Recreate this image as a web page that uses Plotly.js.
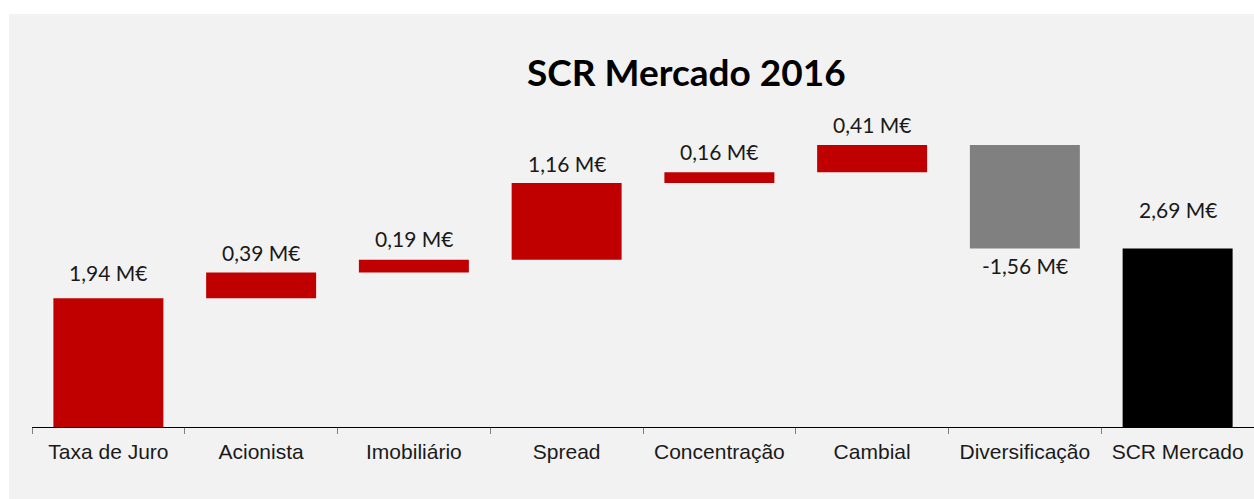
<!DOCTYPE html>
<html>
<head>
<meta charset="utf-8">
<script src="https://cdn.plot.ly/plotly-3.0.1.min.js"></script>
<style>
  html, body { margin: 0; padding: 0; background: #ffffff; width: 1254px; height: 499px; overflow: hidden; }
  #chart { position: absolute; left: 9px; top: 14px; width: 1245px; height: 485px; }
</style>
</head>
<body>
<div id="chart"></div>
<script>
const categories = ["Taxa de Juro", "Acionista", "Imobiliário", "Spread", "Concentração", "Cambial", "Diversificação", "SCR Mercado"];
const values = [1.94, 0.39, 0.19, 1.16, 0.16, 0.41, -1.56, 2.69];
const measures = ["relative", "relative", "relative", "relative", "relative", "relative", "relative", "total"];
const labels = values.map(v => v.toFixed(2).replace('.', ',') + ' M€');

// label offsets (pixels) from the bar end — styling only
const labelShift = [26, 20, 21, 19, 21, 21, -17, 39];

// cumulative positions of bar ends derived from the data
let run = 0;
const barEnds = values.map((v, i) => {
  if (measures[i] === 'total') { return run; }
  const start = run;
  run += v;
  return v >= 0 ? run : run; // label at bar's end (top for up bars, bottom for down bars)
});

const trace = {
  type: 'waterfall',
  x: categories,
  y: values.map((v, i) => measures[i] === 'total' ? 0 : v),
  measure: measures,
  cliponaxis: false,
  increasing: { marker: { color: '#c00000' } },
  decreasing: { marker: { color: '#808080' } },
  totals: { marker: { color: '#000000' } },
  connector: { visible: false },
  hoverinfo: 'none'
};

const annotations = categories.map((c, i) => ({
  x: c, y: barEnds[i], xref: 'x', yref: 'y',
  text: labels[i], showarrow: false,
  yshift: labelShift[i], yanchor: 'middle', xanchor: 'center',
  font: { family: 'Lato, "Open Sans", sans-serif', size: 21, color: '#1a1a1a' }
}));

const layout = {
  width: 1245,
  height: 485,
  margin: { l: 23, r: 0, t: 86, b: 72 },
  paper_bgcolor: '#f2f2f2',
  plot_bgcolor: '#f2f2f2',
  showlegend: false,
  waterfallgap: 0.28,
  annotations: annotations,
  title: {
    text: 'SCR Mercado 2016',
    font: { family: 'Lato, "Open Sans", sans-serif', size: 37, color: '#000000', weight: 'bold' },
    x: 0.544, xanchor: 'center', xref: 'container',
    y: 1 - 59 / 485, yref: 'container', yanchor: 'middle'
  },
  xaxis: {
    type: 'category',
    showline: true, linecolor: '#000000', linewidth: 1,
    ticks: 'outside', tickson: 'boundaries', ticklen: 6, tickcolor: '#808080', tickwidth: 1,
    ticklabelstandoff: 6,
    tickfont: { family: '"Liberation Sans", Arial, sans-serif', size: 21, color: '#1a1a1a' },
    showgrid: false, zeroline: false, fixedrange: true
  },
  yaxis: {
    range: [0, 4.93],
    visible: false, showgrid: false, zeroline: false, fixedrange: true
  }
};

Plotly.newPlot('chart', [trace], layout, { displayModeBar: false, staticPlot: true });
</script>
</body>
</html>
